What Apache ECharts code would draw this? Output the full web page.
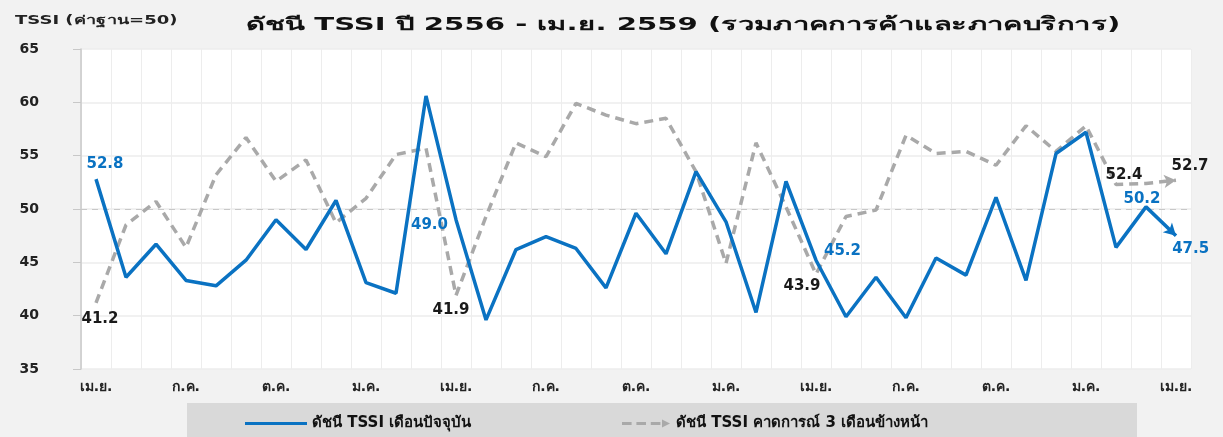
<!DOCTYPE html>
<html>
<head>
<meta charset="utf-8">
<script src="https://cdn.jsdelivr.net/npm/echarts@6/dist/echarts.min.js"></script>
<style>
  html, body { margin: 0; padding: 0; background: #f2f2f2; }
  #chart { width: 1223px; height: 437px; }
</style>
</head>
<body>
<div id="chart"></div>
<script>
// เดือน เม.ย. 2556 - เม.ย. 2559
var monthNames = ['ม.ค.', 'ก.พ.', 'มี.ค.', 'เม.ย.', 'พ.ค.', 'มิ.ย.', 'ก.ค.', 'ส.ค.', 'ก.ย.', 'ต.ค.', 'พ.ย.', 'ธ.ค.'];
var months = [];
for (var y = 2556; y <= 2559; y++) {
    for (var m = 0; m < 12; m++) {
        if ((y === 2556 && m < 3) || (y === 2559 && m > 3)) continue;
        months.push(monthNames[m] + ' ' + y);
    }
}

var currentIdx = [52.8, 43.6, 46.7, 43.3, 42.8, 45.2, 49.0, 46.2, 50.8, 43.1, 42.1, 60.6, 49.0,
    39.6, 46.2, 47.4, 46.3, 42.6, 49.6, 45.8, 53.5, 48.8, 40.3, 52.6, 45.2,
    39.9, 43.6, 39.8, 45.4, 43.8, 51.1, 43.3, 55.2, 57.2, 46.4, 50.2, 47.5];
var forecastIdx = [41.2, 48.5, 50.7, 46.4, 53.2, 56.7, 52.6, 54.6, 48.7, 51.0, 55.1, 55.7, 41.9,
    49.3, 56.2, 54.9, 59.9, 58.8, 58.0, 58.5, 53.5, 44.9, 56.2, 50.2, 43.9,
    49.3, 49.9, 56.9, 55.2, 55.4, 54.1, 57.8, 55.4, 57.8, 52.3, 52.4, 52.7];

// จุดที่แสดงค่า
var currentLabels = { 0: 'top', 12: 'left', 24: 'right', 35: 'top', 36: 'bottom' };
var forecastLabels = { 0: 'bottom', 12: 'bottom', 24: 'bottom', 35: 'top', 36: 'top' };
var currentOffsets = { 0: [9, -3], 12: [-3, 5], 24: [3, -9], 35: [-4, 5], 36: [19, -4] };
var forecastOffsets = { 0: [4, 4], 12: [-5, 2], 24: [-14, 0], 35: [-22, 4], 36: [20, 5] };

var BLUE = '#0a72c2';
var GREY = '#a9a9a9';
var FONT = 'DejaVu Sans';

var chartDom = document.getElementById('chart');
var myChart = echarts.init(chartDom);
var option;

function arrowAngle(values) {
    var n = values.length;
    var a = myChart.convertToPixel({ gridIndex: 0 }, [n - 2, values[n - 2]]);
    var b = myChart.convertToPixel({ gridIndex: 0 }, [n - 1, values[n - 1]]);
    return Math.atan2(-(b[1] - a[1]), b[0] - a[0]) * 180 / Math.PI - 90;
}

function buildData(values, labels, color, offsets, withArrow) {
    return values.map(function (v, i) {
        var item = { value: v };
        if (labels[i]) {
            item.label = {
                show: true,
                position: labels[i],
                offset: offsets[i] || [0, 0],
                color: color,
                fontFamily: FONT,
                fontWeight: 'bold',
                fontSize: 15,
                formatter: function (p) { return p.value.toFixed(1); }
            };
        }
        if (withArrow && i === values.length - 1) {
            item.symbol = 'arrow';
            item.symbolSize = [10, 12];
            item.symbolRotate = arrowAngle(values);
        }
        return item;
    });
}

option = {
    backgroundColor: '#f2f2f2',
    animation: false,
    graphic: [
        {
            type: 'text',
            x: 683,
            y: 25,
            scaleX: 1.62,
            style: {
                text: 'ดัชนี TSSI ปี 2556 - เม.ย. 2559 (รวมภาคการค้าและภาคบริการ)',
                font: 'bold 18px "DejaVu Sans"',
                fill: '#111',
                align: 'center',
                verticalAlign: 'middle'
            }
        },
        {
            type: 'text',
            x: 15,
            y: 21,
            scaleX: 1.5,
            style: {
                text: 'TSSI (ค่าฐาน=50)',
                font: 'bold 12px "DejaVu Sans"',
                fill: '#222',
                align: 'left',
                verticalAlign: 'middle'
            }
        },
        {
            type: 'rect',
            shape: { x: 187, y: 403, width: 950, height: 40 },
            style: { fill: '#d9d9d9' },
            silent: true,
            z: -1
        }
    ],
    legend: [
        {
            data: [{ name: 'ดัชนี TSSI เดือนปัจจุบัน', icon: 'rect' }],
            left: 240,
            top: 411,
            itemWidth: 62,
            itemHeight: 3,
            textStyle: { fontFamily: FONT, fontWeight: 'bold', fontSize: 15, color: '#111' }
        },
        {
            data: [{
                name: 'ดัชนี TSSI คาดการณ์ 3 เดือนข้างหน้า',
                icon: 'path://M0,3h12v4h-12z M18,3h12v4h-12z M36,3h12v4h-12z M50,0l10,5l-10,5z'
            }],
            left: 617,
            top: 411,
            itemWidth: 50,
            itemHeight: 8,
            textStyle: { fontFamily: FONT, fontWeight: 'bold', fontSize: 15, color: '#111' }
        }
    ],
    grid: {
        left: 81,
        right: 32,
        top: 49,
        bottom: 68,
        show: true,
        backgroundColor: '#ffffff',
        borderWidth: 0
    },
    xAxis: {
        type: 'category',
        data: months,
        boundaryGap: true,
        axisLine: { show: false },
        axisTick: { show: false },
        splitLine: { show: true, interval: 0, lineStyle: { color: '#ededed', width: 1 } },
        axisLabel: {
            interval: 2,
            margin: 11,
            color: '#222',
            fontFamily: FONT,
            fontWeight: 'bold',
            fontSize: 14,
            formatter: function (v) { return v.split(' ')[0]; }
        }
    },
    yAxis: {
        type: 'value',
        min: 35,
        max: 65,
        interval: 5,
        axisLine: { show: true, lineStyle: { color: '#c8c8c8', width: 1.5 } },
        axisTick: { show: true, length: 8, lineStyle: { color: '#c8c8c8' } },
        splitLine: { show: true, lineStyle: { color: '#ededed', width: 1.5 } },
        axisLabel: {
            align: 'right',
            margin: 42,
            color: '#222',
            fontFamily: FONT,
            fontWeight: 'bold',
            fontSize: 14
        }
    },
    series: [
        {
            name: 'ดัชนี TSSI คาดการณ์ 3 เดือนข้างหน้า',
            type: 'line',
            data: buildData(forecastIdx, forecastLabels, '#1a1a1a', forecastOffsets, false),
            symbol: 'circle',
            symbolSize: 0,
            showAllSymbol: true,
            lineStyle: { color: GREY, width: 3.5, type: [9, 6] },
            itemStyle: { color: GREY },
            z: 2
        },
        {
            name: 'ดัชนี TSSI เดือนปัจจุบัน',
            type: 'line',
            data: buildData(currentIdx, currentLabels, BLUE, currentOffsets, false),
            symbol: 'circle',
            symbolSize: 0,
            showAllSymbol: true,
            lineStyle: { color: BLUE, width: 3.5 },
            itemStyle: { color: BLUE },
            markLine: {
                silent: true,
                symbol: 'none',
                label: { show: false },
                lineStyle: { color: '#c8c8c8', type: [6, 5], width: 1.2 },
                data: [{ yAxis: 50 }],
                z: 1
            },
            z: 3
        }
    ]
};
myChart.setOption(option);

// หัวลูกศรที่ปลายเส้น (ต้องรู้พิกัดหลังวาดครั้งแรก)
myChart.setOption({
    series: [
        { data: buildData(forecastIdx, forecastLabels, '#1a1a1a', forecastOffsets, true) },
        { data: buildData(currentIdx, currentLabels, BLUE, currentOffsets, true) }
    ]
});
</script>
</body>
</html>
